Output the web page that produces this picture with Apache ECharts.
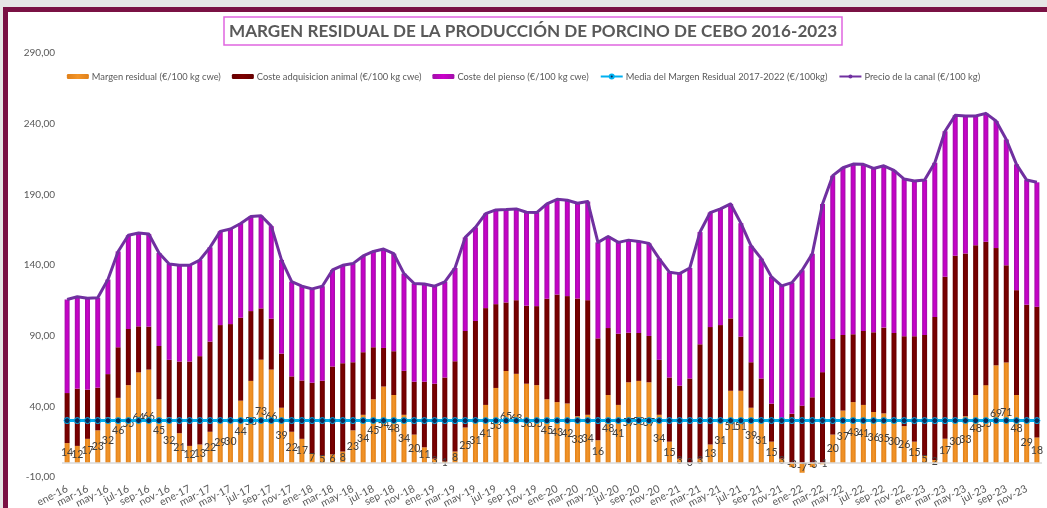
<!DOCTYPE html>
<html>
<head>
<meta charset="utf-8">
<script src="https://cdn.jsdelivr.net/npm/echarts@6/dist/echarts.min.js"></script>
<style>
  html, body { margin: 0; padding: 0; }
  #wrap { position: relative; width: 1047px; height: 508px; background: #e6e6e6; overflow: hidden; }
  #frame { position: absolute; left: 3px; top: 7px; right: -10px; bottom: -10px;
           border-left: 5px solid #7a1144; border-top: 5px solid #7a1144; background: #fff; }
  #chart { position: absolute; left: 0; top: 0; width: 1047px; height: 508px; }
</style>
</head>
<body>
<div id="wrap">
  <div id="frame"></div>
  <div id="chart"></div>
</div>
<script>
var years = ['16', '17', '18', '19', '20', '21', '22', '23'];
var months = ['ene', 'feb', 'mar', 'abr', 'may', 'jun', 'jul', 'ago', 'sep', 'oct', 'nov', 'dic'];

// Margen residual (€/100 kg cwe)
var margen = [
    14, 12, 17, 23, 32, 46, 55, 64, 66, 45, 32, 21,
    12, 13, 22, 29, 30, 44, 58, 73, 66, 39, 22, 17,
    7, 5, 6, 8, 23, 34, 45, 54, 48, 34, 20, 11,
    3, 1, 8, 25, 31, 41, 53, 65, 63, 56, 55, 45,
    43, 42, 33, 34, 16, 48, 41, 57, 58, 57, 34, 15,
    3, 0, 3, 13, 31, 51, 51, 39, 31, 15, 3, -3,
    -7, -3, -1, 20, 37, 43, 41, 36, 35, 30, 26, 15,
    5, 2, 17, 30, 33, 48, 55, 69, 71, 48, 29, 18
];
// Coste adquisicion animal (€/100 kg cwe)
var costeAnimal = [
    35.4, 40.5, 34.8, 30.2, 30.8, 35.8, 39.7, 32.6, 30.4, 37.7, 40.9, 50.7,
    59.7, 62.5, 63.8, 68.5, 68.2, 58.7, 49.4, 36.3, 36.0, 38.3, 39.2, 41.3,
    49.7, 53.1, 62.2, 62.5, 48.2, 44.3, 36.8, 27.3, 31.0, 31.1, 37.4, 46.4,
    53.0, 59.4, 63.9, 68.3, 69.4, 68.5, 59.3, 48.5, 52.1, 55.2, 55.9, 71.1,
    76.1, 76.0, 83.3, 81.1, 72.1, 47.4, 50.4, 35.1, 33.9, 32.8, 38.9, 45.4,
    51.6, 59.7, 80.9, 83.1, 66.5, 51.2, 38.3, 32.2, 28.7, 26.9, 28.1, 34.7,
    40.5, 46.4, 64.2, 67.7, 53.5, 48.0, 52.3, 56.4, 60.7, 61.9, 63.6, 74.6,
    85.5, 101.2, 114.6, 116.6, 115.2, 105.9, 101.5, 83.0, 68.8, 74.2, 82.9, 92.4
];
// Coste del pienso (€/100 kg cwe)
var costePienso = [
    66.2, 65.0, 64.7, 63.6, 66.9, 67.8, 66.3, 66.0, 65.5, 65.8, 67.8, 68.1,
    68.1, 68.0, 66.7, 66.3, 67.3, 66.7, 66.9, 65.5, 65.5, 66.3, 67.0, 66.7,
    66.4, 66.9, 68.3, 69.3, 69.8, 68.1, 67.8, 70.0, 69.0, 68.8, 69.5, 69.2,
    69.0, 67.7, 66.0, 66.2, 66.2, 66.9, 66.7, 65.7, 64.6, 66.1, 66.2, 67.1,
    67.4, 67.8, 67.4, 69.8, 67.9, 64.8, 64.6, 65.5, 64.8, 65.5, 71.6, 74.5,
    79.3, 78.2, 79.4, 81.0, 82.2, 81.0, 80.3, 82.4, 84.8, 89.7, 94.1, 92.8,
    95.8, 101.6, 119.0, 115.5, 118.3, 120.4, 117.9, 115.9, 114.5, 115.0, 111.2, 109.8,
    109.6, 109.1, 103.0, 99.3, 97.2, 91.5, 90.8, 89.9, 89.0, 89.0, 88.2, 88.1
];
// Precio de la canal (€/100 kg)
var precioCanal = [
    115.6, 117.5, 116.5, 116.8, 129.7, 149.6, 161.0, 162.6, 161.9, 148.5, 140.7, 139.8,
    139.8, 143.5, 152.5, 163.8, 165.5, 169.4, 174.3, 174.8, 167.5, 143.6, 128.2, 125.0,
    123.1, 125.0, 136.5, 139.8, 141.0, 146.4, 149.6, 151.3, 148.0, 133.9, 126.9, 126.6,
    125.0, 128.1, 137.9, 159.5, 166.6, 176.4, 179.0, 179.2, 179.7, 177.3, 177.1, 183.2,
    186.5, 185.8, 183.7, 184.9, 156.0, 160.2, 156.0, 157.6, 156.7, 155.3, 144.5, 134.9,
    133.9, 137.9, 163.3, 177.1, 179.7, 183.2, 169.6, 153.6, 144.5, 131.6, 125.2, 127.5,
    136.3, 148.0, 183.2, 203.2, 208.8, 211.4, 211.2, 208.3, 210.2, 206.9, 200.8, 199.4,
    200.1, 212.3, 234.6, 245.9, 245.4, 245.4, 247.3, 241.9, 228.8, 211.2, 200.1, 198.5
];
// Media del Margen Residual 2017-2022 (€/100kg)
var mediaMargen = 29.9;

var categories = [];
years.forEach(function (y) {
    months.forEach(function (m) { categories.push(m + '-' + y); });
});

var FONT = 'Lato, "Open Sans", sans-serif';
var grey = '#595959';

function hGrad(c1, c2) {
    return new echarts.graphic.LinearGradient(0, 0, 1, 0, [
        {offset: 0, color: c1}, {offset: 0.5, color: c2}, {offset: 1, color: c1}
    ]);
}

var option = {
    animation: false,
    textStyle: {fontFamily: FONT},
    title: {
        text: 'MARGEN RESIDUAL DE LA PRODUCCIÓN DE PORCINO DE CEBO 2016-2023',
        left: 224,
        top: 17,
        padding: [6, 5, 5, 5],
        borderColor: '#e066e0',
        borderWidth: 1.5,
        textStyle: {fontFamily: FONT, fontSize: 17.1, fontWeight: 'bold', color: grey}
    },
    legend: {
        top: 67,
        left: 'center',
        itemWidth: 22,
        itemHeight: 5,
        itemGap: 11,
        textStyle: {fontFamily: FONT, fontSize: 9.3, color: grey, padding: [0, 0, 0, -2]},
        data: [
            'Margen residual (€/100 kg cwe)',
            'Coste adquisicion animal (€/100 kg cwe)',
            'Coste del pienso (€/100 kg cwe)',
            'Media del Margen Residual 2017-2022 (€/100kg)',
            'Precio de la canal (€/100 kg)'
        ]
    },
    grid: {left: 62, right: 5, top: 53, bottom: 31, outerBoundsMode: 'none'},
    xAxis: {
        type: 'category',
        data: categories,
        axisLine: {show: false, onZero: false},
        axisTick: {show: false},
        axisLabel: {
            interval: 0, rotate: 27, margin: 11, fontSize: 10.5, color: grey, fontFamily: FONT,
            showMinLabel: true,
            formatter: function (v, i) { return i % 2 === 0 ? v : ''; }
        }
    },
    yAxis: {
        type: 'value',
        min: -10,
        max: 290,
        interval: 50,
        splitLine: {show: false},
        axisLine: {show: false},
        axisTick: {show: false},
        axisLabel: {
            margin: 7, fontSize: 10, color: grey, fontFamily: FONT,
            formatter: function (v) { return v.toFixed(2).replace('.', ','); }
        }
    },
    series: [
        {
            name: 'Margen residual (€/100 kg cwe)',
            type: 'bar',
            stack: 'total',
            barWidth: 5,
            data: margen,
            itemStyle: {color: hGrad('#e0801a', '#f39528')},
            label: {
                show: true,
                position: 'inside',
                color: '#404040',
                fontSize: 10.5,
                fontFamily: FONT,
                formatter: function (p) { return Math.round(p.value); }
            },
            markLine: {
                silent: true,
                symbol: 'none',
                label: {show: false},
                lineStyle: {color: '#d9d9d9', type: 'solid', width: 1.5},
                data: [{yAxis: 0}]
            },
            z: 2
        },
        {
            name: 'Coste adquisicion animal (€/100 kg cwe)',
            type: 'bar',
            stack: 'total',
            barWidth: 5,
            data: costeAnimal,
            itemStyle: {color: hGrad('#650000', '#7d0000')}
        },
        {
            name: 'Coste del pienso (€/100 kg cwe)',
            type: 'bar',
            stack: 'total',
            barWidth: 5,
            data: costePienso,
            itemStyle: {color: hGrad('#a010a8', '#cc00cc')}
        },
        {
            name: 'Media del Margen Residual 2017-2022 (€/100kg)',
            type: 'line',
            data: categories.map(function () { return mediaMargen; }),
            symbol: 'circle',
            symbolSize: 6,
            lineStyle: {color: '#00b0f0', width: 3},
            itemStyle: {color: '#0d2a55', borderColor: '#00b0f0', borderWidth: 1},
            z: 4
        },
        {
            name: 'Precio de la canal (€/100 kg)',
            type: 'line',
            data: precioCanal,
            symbol: 'none',
            lineStyle: {color: '#7030a0', width: 3, join: 'round'},
            itemStyle: {color: '#7030a0'},
            z: 5
        }
    ]
};

var myChart = echarts.init(document.getElementById('chart'), null, {renderer: 'canvas'});
myChart.setOption(option);
</script>
</body>
</html>
